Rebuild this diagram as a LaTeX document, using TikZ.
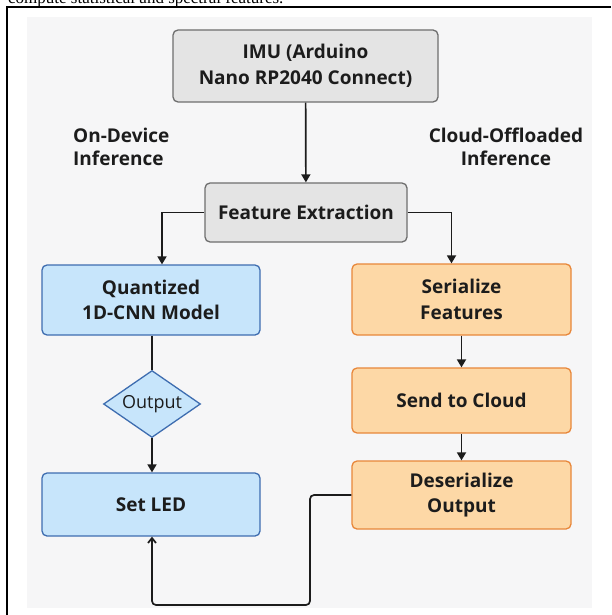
\documentclass[tikz,border=0pt]{standalone}
\usepackage{fontspec}
\setmainfont{Liberation Serif}
\newfontfamily\boxfont{Open Sans}
\usetikzlibrary{arrows.meta,shapes.geometric}
\definecolor{pagebg}{HTML}{F6F6F7}
\definecolor{inkblack}{HTML}{1C1C1C}
\definecolor{greyfill}{HTML}{E4E4E4}
\definecolor{greyline}{HTML}{6E6E6E}
\definecolor{bluefill}{HTML}{C7E5FB}
\definecolor{blueline}{HTML}{3E6DB0}
\definecolor{orangefill}{HTML}{FDD8A6}
\definecolor{orangeline}{HTML}{E8873A}
\tikzset{
  box/.style={rounded corners=5pt, align=center, inner sep=3pt, line width=1.3pt, text=inkblack, font={\boxfont\bfseries\fontsize{19}{25.5}\selectfont}},
  greybox/.style={box, draw=greyline, fill=greyfill},
  bluebox/.style={box, draw=blueline, fill=bluefill, minimum width=218pt},
  orangebox/.style={box, draw=orangeline, fill=orangefill, minimum width=219pt},
  decision/.style={diamond, draw=blueline, fill=bluefill, line width=1.3pt, inner sep=0pt, aspect=1.45, minimum width=97pt, minimum height=67pt, text=inkblack, font={\boxfont\fontsize{18}{22}\selectfont}},
  branchlabel/.style={text=inkblack, inner sep=0pt, font={\boxfont\bfseries\fontsize{19}{23}\selectfont}},
  arrow/.style={-{Triangle[length=8pt,width=9pt]}, line width=1.7pt, draw=inkblack},
  plainline/.style={line width=1.7pt, draw=inkblack},
  openarrow/.style={-{Straight Barb[length=5pt,width=8pt]}, line width=1.7pt, draw=inkblack, rounded corners=4pt}
}
\begin{document}
\begin{tikzpicture}[x=1pt, y=-1pt]
\useasboundingbox (0,0) rectangle (611,615);
% page around the figure
\node[anchor=base west, inner sep=0pt, font=\fontsize{17}{20}\selectfont] (pagetext) at (8,4) {compute statistical and spectral features.};
\fill[white] (8,8) rectangle (611,615);
\fill[pagebg] (27,17) rectangle (592,608);
\draw[line width=1.6pt] (7,615) -- (7,7) -- (611,7);

\node[greybox, minimum width=265pt, minimum height=72pt] (imu) at (305.5,66) {IMU (Arduino\\Nano RP2040 Connect)};
\node[greybox, minimum width=202pt, minimum height=59pt] (feat) at (306,212.5) {Feature Extraction};

\node[branchlabel, align=left, anchor=west] (ondevice) at (73,147) {On-Device\\Inference};
\node[branchlabel, align=center] (cloudside) at (506,147) {Cloud-Offloaded\\Inference};

% on-device branch
\node[bluebox, minimum height=70pt] (quant) at (151,300) {Quantized\\1D-CNN Model};
\node[decision] (outp) at (152,404) {Output};
\node[bluebox, minimum height=63pt] (led) at (151,504.5) {Set LED};

% cloud branch
\node[orangebox, minimum height=71pt] (ser) at (461.5,299.5) {Serialize\\Features};
\node[orangebox, minimum height=65pt] (send) at (461.5,400.5) {Send to Cloud};
\node[orangebox, minimum height=68pt] (deser) at (461.5,495) {Deserialize\\Output};
\coordinate (loopturn) at (310,605);

\draw[arrow] (imu) -- (feat);
\draw[arrow] (feat.west) -| ([xshift=11pt]quant.north);
\draw[arrow] (feat.east) -| ([xshift=-10pt]ser.north);
\draw[plainline] (quant.south -| outp.north) -- (outp.north);
\draw[arrow] (outp.south) -- (outp.south |- led.north);
\draw[arrow] (ser) -- (send);
\draw[arrow] (send) -- (deser);
\draw[openarrow] (deser.west) -| (loopturn) -| (outp.south |- led.south);
\end{tikzpicture}
\end{document}
